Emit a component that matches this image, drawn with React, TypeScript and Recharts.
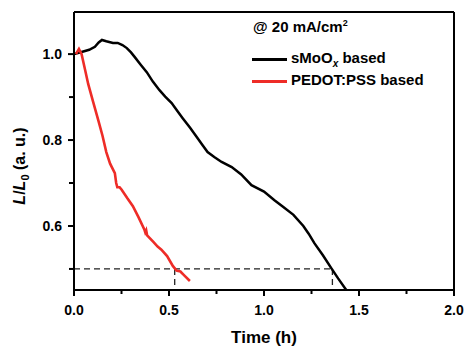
import { LineChart, Line, XAxis, YAxis, ReferenceLine } from "recharts";

// sMoOx based device (time in h, normalised luminance)
const smooxTime = [0, 0.04, 0.08, 0.11, 0.13, 0.147, 0.17, 0.205, 0.23, 0.255, 0.278, 0.3, 0.32, 0.35, 0.383, 0.415, 0.45, 0.48, 0.514, 0.545, 0.572, 0.61, 0.646, 0.675, 0.703, 0.74, 0.777, 0.83, 0.88, 0.934, 1.0, 1.055, 1.1, 1.155, 1.207, 1.235, 1.265, 1.31, 1.354, 1.39, 1.433];
const smooxValue = [1.0, 1.005, 1.01, 1.017, 1.027, 1.033, 1.03, 1.026, 1.026, 1.021, 1.014, 1.004, 0.993, 0.976, 0.958, 0.936, 0.916, 0.901, 0.886, 0.867, 0.851, 0.829, 0.807, 0.789, 0.772, 0.76, 0.749, 0.737, 0.72, 0.695, 0.68, 0.66, 0.645, 0.626, 0.6, 0.582, 0.56, 0.532, 0.502, 0.478, 0.451];

// PEDOT:PSS based device
const pedotTime = [0.01, 0.026, 0.04, 0.06, 0.075, 0.1, 0.128, 0.15, 0.17, 0.19, 0.215, 0.222, 0.228, 0.24, 0.25, 0.28, 0.31, 0.34, 0.37, 0.375, 0.38, 0.385, 0.42, 0.44, 0.46, 0.49, 0.52, 0.54, 0.56, 0.58, 0.61];
const pedotValue = [1.0, 1.012, 1.0, 0.96, 0.93, 0.89, 0.846, 0.81, 0.772, 0.745, 0.723, 0.7, 0.69, 0.69, 0.685, 0.665, 0.646, 0.62, 0.592, 0.585, 0.59, 0.578, 0.562, 0.552, 0.545, 0.53, 0.507, 0.496, 0.494, 0.485, 0.472];

const xTicks = [0, 0.25, 0.5, 0.75, 1.0, 1.25, 1.5, 1.75, 2.0];
const xLabels = [0, 0.5, 1.0, 1.5, 2.0];
const yTicks = [0.5, 0.6, 0.7, 0.8, 0.9, 1.0];
const yLabels = [0.6, 0.8, 1.0];

const xDomain = [0, 2];
const yDomain = [0.451, 1.098];

const halfLife = 0.5;
const smooxHalfTime = 1.36;
const pedotHalfTime = 0.53;

const smooxData = smooxTime.map((t, i) => ({ t, v: smooxValue[i] }));
const pedotData = pedotTime.map((t, i) => ({ t, v: pedotValue[i] }));

const FONT = "'Liberation Sans', Arial, sans-serif";
const RED = "#ee2c27";

function XTick(props: any) {
  const { x, y, payload } = props;
  const axisY = y - 15;
  const major = xLabels.some((l) => Math.abs(l - payload.value) < 1e-6);
  return (
    <g>
      <line x1={x} x2={x} y1={axisY} y2={axisY + (major ? 6 : 4)} stroke="#000" strokeWidth={2} />
      {major && (
        <text x={x} y={y} dy="0.71em" textAnchor="middle" fontFamily={FONT} fontWeight="bold" fontSize={14} fill="#000">
          {payload.value.toFixed(1)}
        </text>
      )}
    </g>
  );
}

function YTick(props: any) {
  const { x, y, payload } = props;
  const axisX = x + 12;
  const major = yLabels.some((l) => Math.abs(l - payload.value) < 1e-6);
  return (
    <g>
      <line x1={axisX} x2={axisX - (major ? 6 : 5)} y1={y} y2={y} stroke="#000" strokeWidth={2} />
      {major && (
        <text x={x} y={y} dy="0.355em" textAnchor="end" fontFamily={FONT} fontWeight="bold" fontSize={14} fill="#000">
          {payload.value.toFixed(1)}
        </text>
      )}
    </g>
  );
}

function YLabel() {
  return (
    <text
      transform="translate(25, 166) rotate(-90)"
      textAnchor="middle"
      fontFamily={FONT}
      fontWeight="bold"
      fontSize={16}
      fill="#000"
    >
      <tspan fontStyle="italic">L</tspan>
      <tspan>/</tspan>
      <tspan fontStyle="italic">L</tspan>
      <tspan fontSize={11} dy={4}>0</tspan>
      <tspan dy={-4}> (a. u.)</tspan>
    </text>
  );
}

function XLabel() {
  return (
    <text x={264} y={343} textAnchor="middle" fontFamily={FONT} fontWeight="bold" fontSize={17} fill="#000">
      Time (h)
    </text>
  );
}

const legendText = { position: "absolute" as const, fontFamily: FONT, fontWeight: "bold" as const, fontSize: 15, color: "#000", lineHeight: "18px", whiteSpace: "nowrap" as const };

export default function App() {
  return (
    <div style={{ position: "absolute", left: 0, top: 0, width: 464, height: 346, background: "#fff" }}>
      <LineChart width={464} height={346} margin={{ top: 12, right: 10, bottom: 0, left: 0 }}>
        <XAxis
          dataKey="t"
          type="number"
          domain={xDomain}
          ticks={xTicks}
          interval={0}
          height={56}
          tickSize={6}
          tickMargin={9}
          tickLine={false}
          tick={<XTick />}
          axisLine={{ stroke: "#000", strokeWidth: 2 }}
          allowDuplicatedCategory={false}
          label={<XLabel />}
        />
        <YAxis
          type="number"
          domain={yDomain}
          ticks={yTicks}
          interval={0}
          width={74}
          tickSize={6}
          tickMargin={6}
          tickLine={false}
          tick={<YTick />}
          axisLine={{ stroke: "#000", strokeWidth: 2 }}
          allowDataOverflow
          label={<YLabel />}
        />
        <ReferenceLine y={yDomain[1]} stroke="#000" strokeWidth={2} />
        <ReferenceLine x={xDomain[1]} stroke="#000" strokeWidth={2} />
        <ReferenceLine
          segment={[{ x: 0, y: halfLife }, { x: smooxHalfTime, y: halfLife }]}
          stroke="#222"
          strokeWidth={1.3}
          strokeDasharray="6 4"
        />
        <ReferenceLine
          segment={[{ x: smooxHalfTime, y: halfLife }, { x: smooxHalfTime, y: yDomain[0] }]}
          stroke="#222"
          strokeWidth={1.3}
          strokeDasharray="6 4"
        />
        <ReferenceLine
          segment={[{ x: pedotHalfTime, y: halfLife }, { x: pedotHalfTime, y: yDomain[0] }]}
          stroke="#222"
          strokeWidth={1.3}
          strokeDasharray="6 4"
        />
        <Line data={smooxData} dataKey="v" type="linear" stroke="#000" strokeWidth={2.5} dot={false} isAnimationActive={false} />
        <Line data={pedotData} dataKey="v" type="linear" stroke={RED} strokeWidth={2.6} dot={false} isAnimationActive={false} />
      </LineChart>
      <div style={{ ...legendText, left: 253, top: 18 }}>
        @ 20 mA/cm<sup style={{ fontSize: 9, lineHeight: 0 }}>2</sup>
      </div>
      <span style={{ position: "absolute", left: 252, top: 58, width: 35, height: 3, background: "#000" }} />
      <div style={{ ...legendText, left: 291, top: 49 }}>
        sMoO<sub style={{ fontSize: 10, fontStyle: "italic", lineHeight: 0 }}>x</sub> based
      </div>
      <span style={{ position: "absolute", left: 252, top: 80, width: 35, height: 2.5, background: RED }} />
      <div style={{ ...legendText, left: 291, top: 71 }}>PEDOT:PSS based</div>
    </div>
  );
}
